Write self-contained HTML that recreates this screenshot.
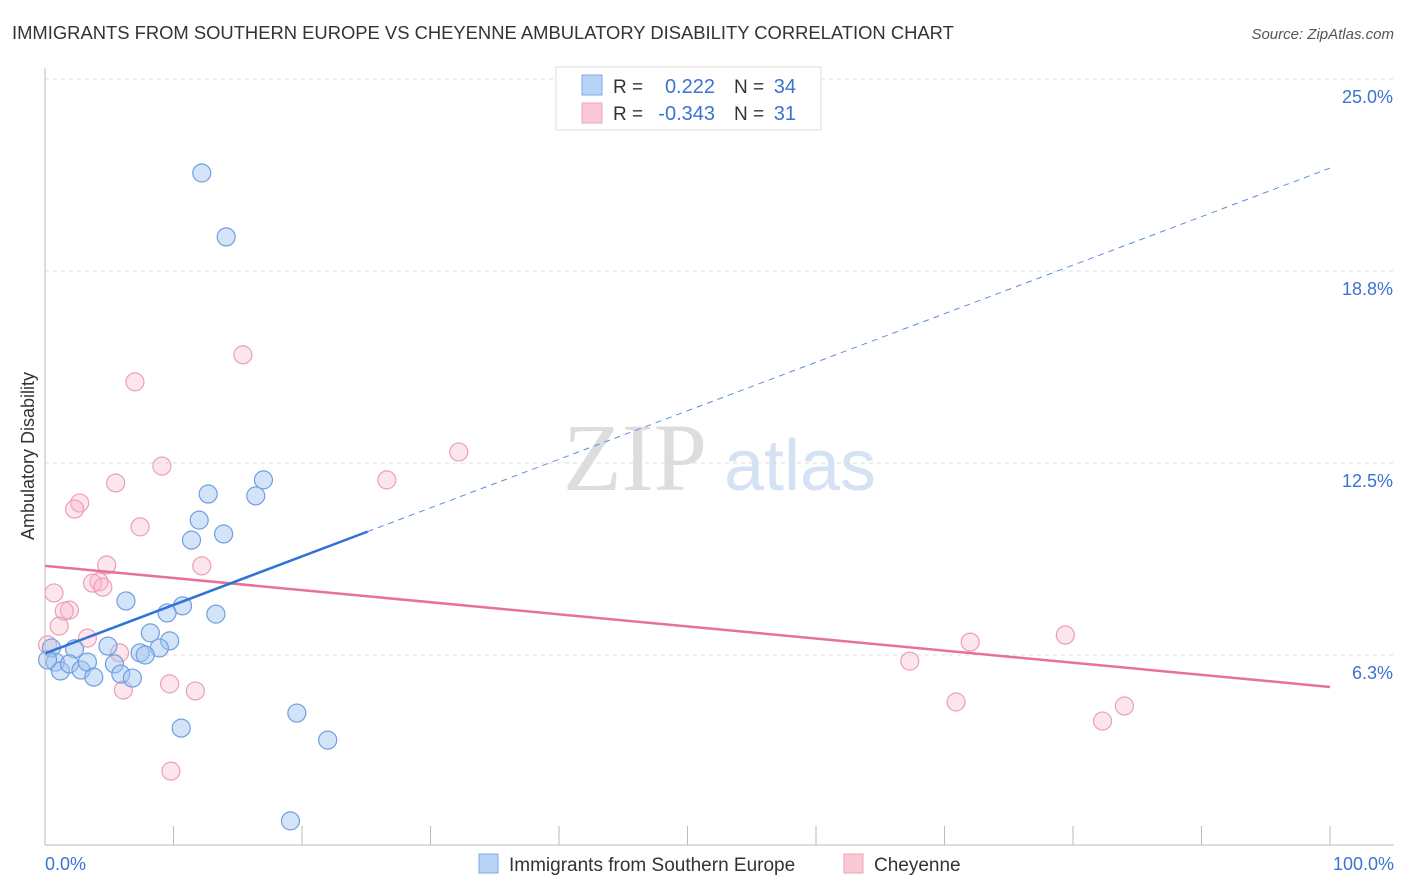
<!DOCTYPE html>
<html><head><meta charset="utf-8"><style>
body{margin:0;background:#fff;font-family:"Liberation Sans",sans-serif;}
svg{display:block}
</style></head><body>
<svg id="chart" width="1406" height="892">
<text x="12" y="39" font-size="18.4" fill="#333">IMMIGRANTS FROM SOUTHERN EUROPE VS CHEYENNE AMBULATORY DISABILITY CORRELATION CHART</text>
<text x="1394" y="39" font-size="15" fill="#555" font-style="italic" text-anchor="end">Source: ZipAtlas.com</text>
<text transform="translate(34,456) rotate(-90)" font-size="18" fill="#333" text-anchor="middle">Ambulatory Disability</text>
<g><text x="635" y="490" font-size="96" fill="#ddd" font-family="Liberation Serif,serif" text-anchor="middle">ZIP</text><text x="800" y="490" font-size="72" fill="#d4e2f4" text-anchor="middle">atlas</text></g>
<g id="grid"></g>
<g id="marks"></g>
<line x1="45" y1="68" x2="45" y2="845" stroke="#bbb"/>
<line x1="45" y1="845" x2="1394" y2="845" stroke="#bbb"/>
<text x="45" y="870" font-size="18" fill="#3b73d1">0.0%</text>
<text x="1394" y="870" font-size="18" fill="#3b73d1" text-anchor="end">100.0%</text>
<g>
<rect x="556" y="67" width="265" height="63" fill="#fff" stroke="#ddd"/>
<rect x="582" y="75" width="20" height="20" fill="#b8d3f5" stroke="#7eaae6"/>
<rect x="582" y="103" width="20" height="20" fill="#fbc8d6" stroke="#eea2b8"/>
<text x="613" y="93" font-size="19" fill="#333">R = </text><text x="715" y="93" font-size="20" fill="#3b73d1" text-anchor="end">0.222</text>
<text x="734" y="93" font-size="19" fill="#333">N = </text><text x="796" y="93" font-size="20" fill="#3b73d1" text-anchor="end">34</text>
<text x="613" y="120" font-size="19" fill="#333">R = </text><text x="715" y="120" font-size="20" fill="#3b73d1" text-anchor="end">-0.343</text>
<text x="734" y="120" font-size="19" fill="#333">N = </text><text x="796" y="120" font-size="20" fill="#3b73d1" text-anchor="end">31</text>
</g>
<g>
<rect x="479" y="854" width="19" height="19" fill="#b8d3f5" stroke="#7eaae6"/>
<text x="509" y="871" font-size="19" fill="#333">Immigrants from Southern Europe</text>
<rect x="844" y="854" width="19" height="19" fill="#fbc8d6" stroke="#eea2b8"/>
<text x="874" y="871" font-size="19" fill="#333">Cheyenne</text>
</g>
</svg>
<script>
const yTicks=[6.25,12.5,18.75,25];
const yTickLabels=["6.3%","12.5%","18.8%","25.0%"];
const xTicks=[0,10,20,30,40,50,60,70,80,90,100];
const blueX=[12.2,14.1,17.0,16.4,12.7,12.0,11.4,13.9,6.3,10.7,9.5,13.3,8.2,9.7,4.9,2.3,8.9,7.4,7.8,0.5,0.8,1.2,1.9,2.8,3.3,3.8,5.4,5.9,6.8,19.6,10.6,22.0,19.1,0.2];
const blueY=[21.94,19.86,11.95,11.43,11.49,10.64,9.99,10.19,8.01,7.85,7.62,7.58,6.97,6.71,6.54,6.45,6.48,6.32,6.25,6.48,6.02,5.73,5.96,5.76,6.02,5.53,5.96,5.63,5.50,4.36,3.87,3.48,0.85,6.09];
const pinkX=[15.4,7.0,32.2,9.1,26.6,2.7,2.3,5.5,7.4,4.8,12.2,4.2,3.7,4.5,0.7,1.9,1.5,1.1,3.3,5.8,9.7,11.7,6.1,9.8,0.2,67.3,72.0,79.4,70.9,82.3,84.0];
const pinkY=[16.02,15.14,12.86,12.40,11.95,11.20,11.00,11.85,10.42,9.18,9.15,8.63,8.59,8.46,8.27,7.71,7.68,7.19,6.80,6.32,5.31,5.08,5.11,2.47,6.58,6.05,6.67,6.90,4.72,4.10,4.59];
const blueTrend=[6.3,0.158]; // intercept, slope
const pinkTrend=[9.15,-0.0394];
const blueSolidEnd=25.1;

const NS="http://www.w3.org/2000/svg";
const X=v=>45+v*12.85;
const Y=v=>847-v*30.72;
function mk(tag,attrs,parent){const e=document.createElementNS(NS,tag);for(const k in attrs)e.setAttribute(k,attrs[k]);parent.appendChild(e);return e;}
const grid=document.getElementById('grid'),marks=document.getElementById('marks'),svg=document.getElementById('chart');
yTicks.forEach((t,i)=>{
  const l=mk('line',{x1:45,x2:1394,y1:Y(t),y2:Y(t),stroke:'#ddd','stroke-dasharray':'4,4'},grid);
  
  
  const tx=mk('text',{x:1393,y:Y(t)+24,'font-size':18,fill:'#3b73d1','text-anchor':'end'},grid);
  tx.textContent=yTickLabels[i];
  
  
});
xTicks.forEach(t=>{
  const l=mk('line',{x1:X(t),x2:X(t),y1:826,y2:845,stroke:'#bbb'},grid);
  
  
});
function pts(xs,ys,fill,stroke,name){
  xs.forEach((x,i)=>{
    const c=mk('circle',{cx:X(x),cy:Y(ys[i]),r:9,fill:fill,stroke:stroke,'stroke-width':1.2},marks);
    
    
  });
}
pts(pinkX,pinkY,'rgba(248,180,200,0.35)','#eb9fb6','cheyenne-point');
pts(blueX,blueY,'rgba(160,196,240,0.45)','#6e9fe0','immigrants-point');
let l=mk('line',{x1:X(0),y1:Y(pinkTrend[0]),x2:X(100),y2:Y(pinkTrend[0]+pinkTrend[1]*100),stroke:'#e8709a','stroke-width':2.5},marks);


l=mk('line',{x1:X(0),y1:Y(blueTrend[0]),x2:X(blueSolidEnd),y2:Y(blueTrend[0]+blueTrend[1]*blueSolidEnd),stroke:'#2f72d8','stroke-width':2.5},marks);


l=mk('line',{x1:X(blueSolidEnd),y1:Y(blueTrend[0]+blueTrend[1]*blueSolidEnd),x2:X(100),y2:Y(blueTrend[0]+blueTrend[1]*100),stroke:'#5b8fdc','stroke-width':1,'stroke-dasharray':'6,5'},marks);


</script>
</body></html>
